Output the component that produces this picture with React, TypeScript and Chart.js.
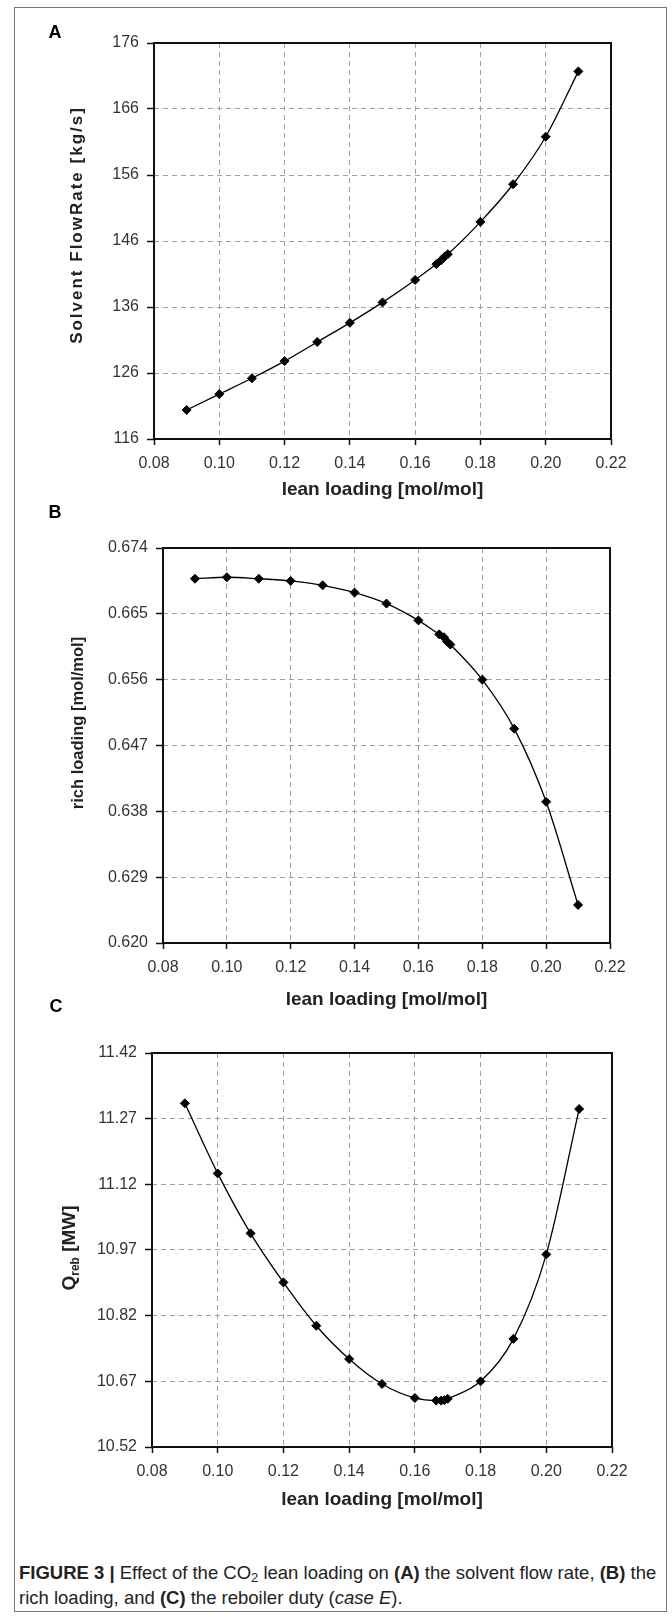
import React, { useEffect, useRef } from 'react';
import { Chart, registerables } from 'chart.js';

Chart.register(...registerables);

const FONT = "'Liberation Sans', Arial, Helvetica, sans-serif";
Chart.defaults.font.family = FONT;

// ---- data ----
const leanLoading = [0.09, 0.10, 0.11, 0.12, 0.13, 0.14, 0.15, 0.16, 0.1665, 0.168, 0.169, 0.170, 0.18, 0.19, 0.20, 0.21];
const solventFlowRate = [120.4, 122.8, 125.2, 127.8, 130.7, 133.6, 136.7, 140.1, 142.5, 143.1, 143.6, 144.0, 148.9, 154.6, 161.8, 171.7];
const richLoading = [0.6698, 0.6700, 0.6698, 0.6695, 0.6689, 0.6679, 0.6664, 0.6641, 0.6622, 0.6618, 0.6612, 0.6608, 0.6560, 0.6493, 0.6393, 0.6252];
const reboilerDuty = [11.305, 11.145, 11.008, 10.896, 10.797, 10.721, 10.664, 10.632, 10.626, 10.626, 10.627, 10.630, 10.670, 10.767, 10.960, 11.292];

const xTicks = [0.08, 0.10, 0.12, 0.14, 0.16, 0.18, 0.20, 0.22];
const yTicksA = [116, 126, 136, 146, 156, 166, 176];
const yTicksB = [0.620, 0.629, 0.638, 0.647, 0.656, 0.665, 0.674];
const yTicksC = [10.52, 10.67, 10.82, 10.97, 11.12, 11.27, 11.42];

const xTitle = 'lean loading [mol/mol]';

type YTitle = { main: string; sub?: string; tail?: string; size: number; spacing: number };

type PanelProps = {
  top: number;
  height: number;
  plotLeft: number;
  plotRight: number;
  plotTop: number;
  plotBottom: number;
  values: number[];
  yTicks: number[];
  yDigits: number;
  label: string;
  labelX: number;
  labelY: number;
  yTitle: YTitle;
  yTitleX: number;
  yTitleY: number;
  xTitleY: number;
};

const CANVAS_LEFT = 15;
const CANVAS_WIDTH = 650;
const X_TITLE_SIZE = 19;

const framePlugin = {
  id: 'panelFrame',
  beforeDatasetsDraw(chart: any) {
    const { ctx, chartArea: a } = chart;
    ctx.save();
    ctx.strokeStyle = '#111';
    ctx.lineWidth = 2;
    ctx.strokeRect(a.left, a.top, a.right - a.left, a.bottom - a.top);
    ctx.restore();
  },
  afterDraw(chart: any, _args: any, opts: any) {
    const { ctx } = chart;
    ctx.save();
    // panel letter
    ctx.fillStyle = '#000';
    ctx.font = `bold 18px ${FONT}`;
    ctx.textAlign = 'center';
    ctx.textBaseline = 'middle';
    ctx.fillText(opts.label, opts.labelX, opts.labelY);
    // rotated y title (with optional subscript)
    const t: YTitle = opts.yTitle;
    const big = `bold ${t.size}px ${FONT}`;
    const small = `bold ${Math.round(t.size * 0.63)}px ${FONT}`;
    try {
      (ctx as any).letterSpacing = `${t.spacing}px`;
    } catch (e) {
      /* ignore */
    }
    ctx.font = big;
    const w1 = ctx.measureText(t.main).width;
    ctx.font = small;
    const w2 = t.sub ? ctx.measureText(t.sub).width : 0;
    ctx.font = big;
    const w3 = t.tail ? ctx.measureText(t.tail).width : 0;
    const total = w1 + w2 + w3;
    ctx.translate(opts.yTitleX, opts.yTitleY);
    ctx.rotate(-Math.PI / 2);
    ctx.textAlign = 'left';
    ctx.fillStyle = '#222';
    let x = -total / 2;
    ctx.font = big;
    ctx.fillText(t.main, x, 0);
    x += w1;
    if (t.sub) {
      ctx.font = small;
      ctx.fillText(t.sub, x, t.size * 0.3);
      x += w2;
    }
    if (t.tail) {
      ctx.font = big;
      ctx.fillText(t.tail, x, 0);
    }
    try {
      (ctx as any).letterSpacing = '0px';
    } catch (e) {
      /* ignore */
    }
    ctx.restore();
  },
};

function Panel(p: PanelProps) {
  const ref = useRef<HTMLCanvasElement | null>(null);
  useEffect(() => {
    if (!ref.current) return;
    const axisHeight = p.top + p.height - p.plotBottom;
    const chart = new Chart(ref.current, {
      type: 'line',
      data: {
        datasets: [
          {
            data: leanLoading.map((x, i) => ({ x, y: p.values[i] })),
            borderColor: '#000',
            backgroundColor: '#000',
            borderWidth: 1.3,
            pointStyle: 'rectRot',
            pointRadius: 4.5,
            pointBorderWidth: 1,
            pointBackgroundColor: '#000',
            pointBorderColor: '#000',
            cubicInterpolationMode: 'monotone',
            fill: false,
          },
        ],
      },
      options: {
        animation: false,
        responsive: false,
        devicePixelRatio: 1,
        layout: {
          padding: {
            left: 0,
            right: CANVAS_LEFT + CANVAS_WIDTH - p.plotRight,
            top: p.plotTop - p.top,
            bottom: 0,
          },
        },
        plugins: {
          legend: { display: false },
          tooltip: { enabled: false },
          panelFrame: {
            label: p.label,
            labelX: p.labelX - CANVAS_LEFT,
            labelY: p.labelY - p.top,
            yTitle: p.yTitle,
            yTitleX: p.yTitleX - CANVAS_LEFT,
            yTitleY: p.yTitleY - p.top,
          },
        } as any,
        scales: {
          x: {
            type: 'linear',
            min: xTicks[0],
            max: xTicks[xTicks.length - 1],
            afterBuildTicks: (axis: any) => {
              axis.ticks = xTicks.map((v) => ({ value: v }));
            },
            afterFit: (axis: any) => {
              axis.height = axisHeight;
            },
            ticks: {
              color: '#333',
              font: { size: 16 },
              padding: 9,
              maxRotation: 0,
              autoSkip: false,
              callback: (v: any) => Number(v).toFixed(2),
            },
            grid: {
              color: '#a0a0a0',
              lineWidth: 1,
              tickLength: 6,
              tickColor: '#111',
              tickWidth: 1.5,
            },
            border: { display: false, dash: [5, 4] },
            title: {
              display: true,
              text: xTitle,
              color: '#222',
              font: { size: X_TITLE_SIZE, weight: 'bold' },
              padding: { top: 0, bottom: p.top + p.height - p.xTitleY - X_TITLE_SIZE * 0.6 },
            },
          },
          y: {
            type: 'linear',
            min: p.yTicks[0],
            max: p.yTicks[p.yTicks.length - 1],
            afterBuildTicks: (axis: any) => {
              axis.ticks = p.yTicks.map((v) => ({ value: v }));
            },
            afterFit: (axis: any) => {
              axis.width = p.plotLeft - CANVAS_LEFT;
            },
            ticks: {
              color: '#333',
              font: { size: 16 },
              padding: 8,
              autoSkip: false,
              callback: (v: any) => Number(v).toFixed(p.yDigits),
            },
            grid: {
              color: '#a0a0a0',
              lineWidth: 1,
              tickLength: 7,
              tickColor: '#111',
              tickWidth: 1.5,
            },
            border: { display: false, dash: [5, 4] },
          },
        },
      } as any,
      plugins: [framePlugin as any],
    });
    return () => chart.destroy();
  }, []);
  return (
    <canvas
      ref={ref}
      width={CANVAS_WIDTH}
      height={p.height}
      style={{
        position: 'absolute',
        left: CANVAS_LEFT,
        top: p.top,
        width: CANVAS_WIDTH,
        height: p.height,
      }}
    />
  );
}

export default function App() {
  return (
    <div
      style={{
        position: 'absolute',
        left: 0,
        top: 0,
        width: 672,
        height: 1619,
        background: '#fff',
        overflow: 'hidden',
      }}
    >
      <div
        style={{
          position: 'absolute',
          left: 14,
          top: 7,
          width: 653,
          height: 1605,
          border: '1px solid #777',
          boxSizing: 'border-box',
        }}
      />
      <Panel
        top={10}
        height={505}
        plotLeft={154}
        plotRight={611}
        plotTop={43}
        plotBottom={439}
        values={solventFlowRate}
        yTicks={yTicksA}
        yDigits={0}
        label="A"
        labelX={55}
        labelY={33}
        yTitle={{ main: 'Solvent FlowRate [kg/s]', size: 17, spacing: 2 }}
        yTitleX={77}
        yTitleY={225}
        xTitleY={490}
      />
      <Panel
        top={500}
        height={520}
        plotLeft={163}
        plotRight={610}
        plotTop={548}
        plotBottom={943}
        values={richLoading}
        yTicks={yTicksB}
        yDigits={3}
        label="B"
        labelX={55}
        labelY={513}
        yTitle={{ main: 'rich loading [mol/mol]', size: 16.5, spacing: 0 }}
        yTitleX={78}
        yTitleY={723}
        xTitleY={1000}
      />
      <Panel
        top={990}
        height={540}
        plotLeft={152}
        plotRight={612}
        plotTop={1053}
        plotBottom={1447}
        values={reboilerDuty}
        yTicks={yTicksC}
        yDigits={2}
        label="C"
        labelX={56}
        labelY={1007}
        yTitle={{ main: 'Q', sub: 'reb', tail: ' [MW]', size: 19, spacing: 0 }}
        yTitleX={70}
        yTitleY={1248}
        xTitleY={1500}
      />
      <div
        style={{
          position: 'absolute',
          left: 19,
          top: 1560,
          width: 648,
          font: `18.5px ${FONT}`,
          lineHeight: '25px',
          color: '#222',
          whiteSpace: 'nowrap',
        }}
      >
        <b>FIGURE 3 |</b> Effect of the CO
        <span style={{ fontSize: '0.7em', verticalAlign: '-0.25em', lineHeight: 0 }}>2</span> lean loading on{' '}
        <b>(A)</b> the solvent flow rate, <b>(B)</b> the
        <br />
        rich loading, and <b>(C)</b> the reboiler duty (<i>case E</i>).
      </div>
    </div>
  );
}
